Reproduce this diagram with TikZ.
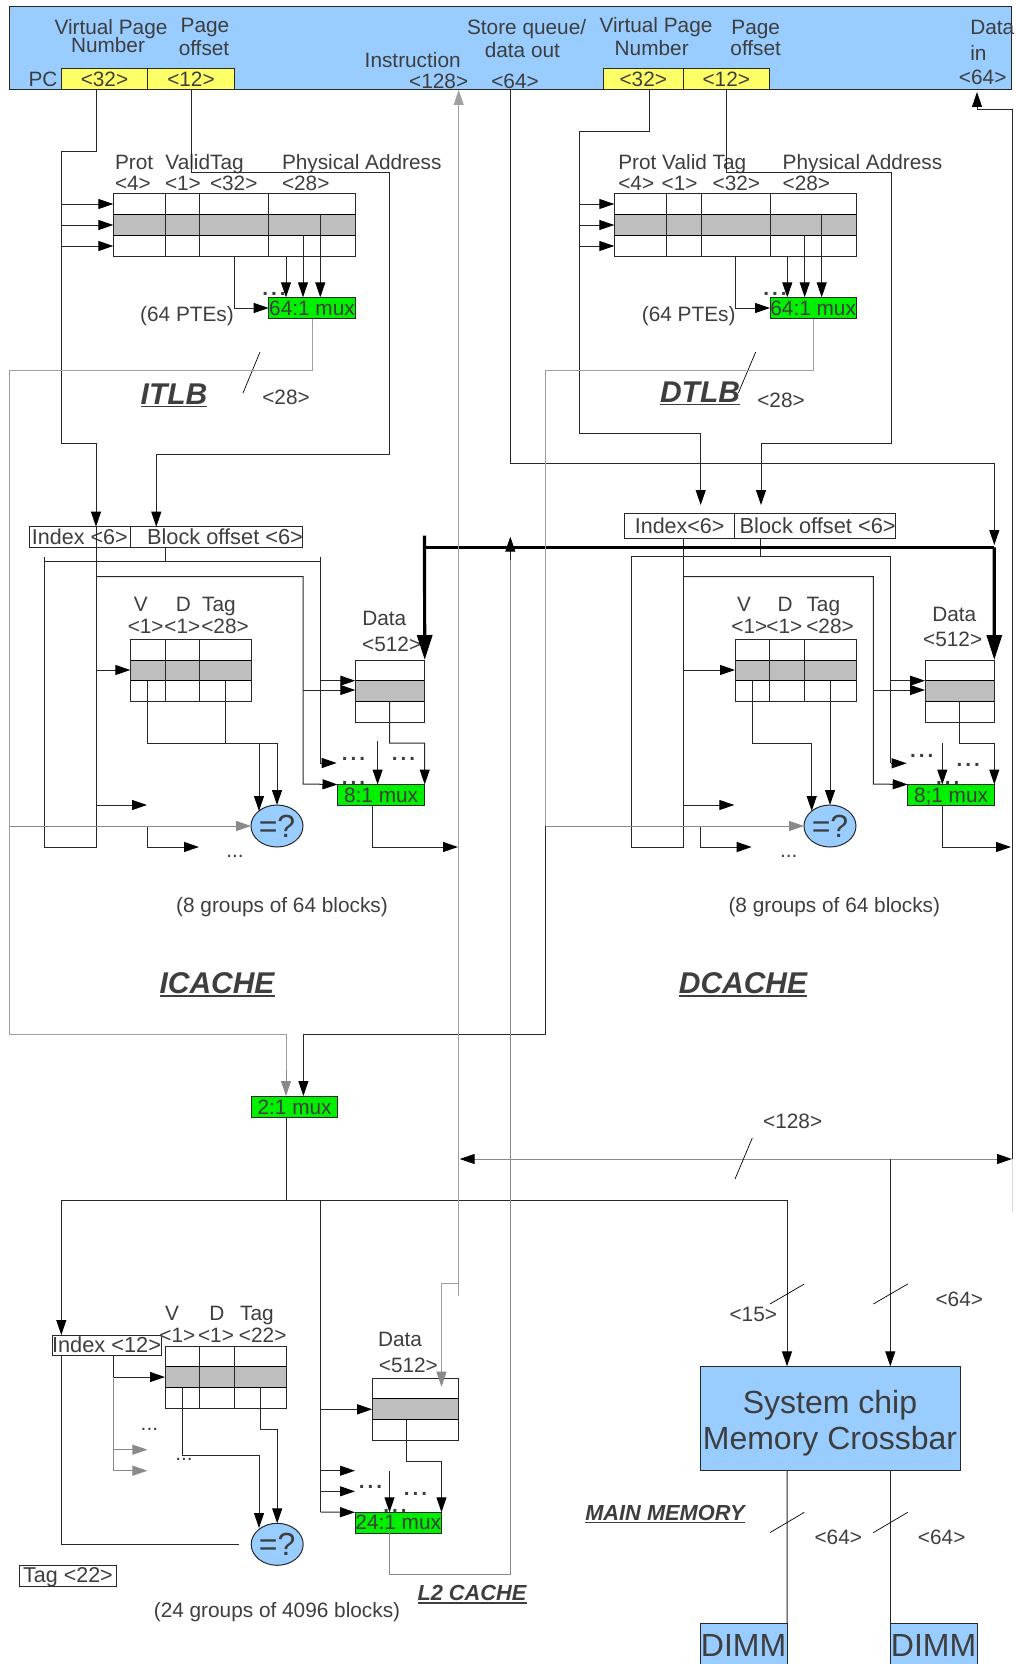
\documentclass[tikz,border=0pt]{standalone}
\usepackage{fontspec}
\setmainfont{Liberation Sans}
\usetikzlibrary{arrows.meta,shapes.geometric}
\definecolor{bluefill}{HTML}{99CCFF}
\definecolor{yel}{HTML}{FFFF66}
\definecolor{grn}{HTML}{00F000}
\definecolor{rowgray}{HTML}{BEBEBE}
\definecolor{txt}{HTML}{3E3E3E}
\definecolor{lnc}{HTML}{282828}
\definecolor{sig}{HTML}{A0A0A0}
\definecolor{sigd}{HTML}{8A8A8A}
\newcommand{\Fs}{\fontsize{20.8}{24}\selectfont}
\newcommand{\Fb}{\fontsize{21.8}{24}\selectfont}
\newcommand{\myul}[1]{\leavevmode\vtop{\hbox{#1}\kern1.2pt\hrule height 1.4pt}}
\newcommand{\dd}{\textbf{.\hspace{3pt}.\hspace{3pt}.}}
\tikzset{
  >={Triangle[length=15pt,width=10pt,color=black]},
  lbl/.style={inner sep=0pt,outer sep=0pt,text=txt,font=\Fs,text height=17pt,text depth=2.4pt},
  lbll/.style={lbl,anchor=west},
  ttl/.style={lbl,font=\fontsize{30}{34}\selectfont\bfseries\itshape,text height=24pt,text depth=2.6pt},
  ttls/.style={lbl,font=\fontsize{21.8}{26}\selectfont\bfseries\itshape,text height=18pt,text depth=2.4pt},
  big/.style={lbl,font=\fontsize{32}{36}\selectfont,text height=26pt,text depth=3.2pt},
  rbox/.style={inner sep=0pt,outer sep=0pt,draw=lnc,line width=1pt,text=txt,font=\Fs,text height=17pt,text depth=2.4pt},
  bar/.style={rbox,fill=bluefill},
  yelbox/.style={rbox,fill=yel},
  mux/.style={rbox,fill=grn},
  wbox/.style={rbox,fill=white},
  gray row/.style={rbox,fill=rowgray,draw=black},
  cmp/.style={ellipse,draw=lnc,line width=1pt,fill=bluefill,inner sep=0pt,outer sep=0pt,
    minimum width=52pt,minimum height=42pt,text=txt,font=\fontsize{32}{36}\selectfont},
  ln/.style={draw=lnc,line width=1pt},
  sg/.style={draw=sig,line width=1pt},
  sgd/.style={draw=sigd,line width=1pt,>={Triangle[length=15pt,width=10pt,color=sigd]}},
  bold/.style={draw=black,line width=3.2pt,>={Triangle[length=25pt,width=15pt,color=black]}},
  slash/.style={draw=black,line width=0.7pt},
}
% rectangular node from its corners
\newcommand{\R}[7]{\node[#2,minimum width={(#5-#3)*1pt},minimum height={(#6-#4)*1pt}] (#1) at ({(#3+#5)/2},{(#4+#6)/2}) {#7};}
% table array: name, x1,x2, y1,y2,y3,y4, column list
\newcommand{\Arr}[8]{%
  \R{#1-r}{gray row}{#2}{#5}{#3}{#6}{}
  \R{#1}{rbox}{#2}{#4}{#3}{#7}{}
  \foreach \c in {#8} {\draw[ln] (#1.north -| \c,0) -- (#1.south -| \c,0);}
}
\newcommand{\T}[4]{\node[lbl] (#1) at (#2,#3) {#4};}
\newcommand{\TL}[4]{\node[lbll] (#1) at (#2,#3) {#4};}
\begin{document}
\begin{tikzpicture}[x=1pt,y=-1pt]
\useasboundingbox[fill=white] (0,0) rectangle (1015,1664);

% ---- top bar
\R{top}{bar}{9.5}{7}{1011.7}{90}{}
\R{pcv}{yelbox}{61.5}{69}{147.5}{90}{<32>}
\R{pco}{yelbox}{147.5}{69}{234.5}{90}{<12>}
\R{dav}{yelbox}{603.3}{69}{683.3}{90}{<32>}
\R{dao}{yelbox}{683.3}{69}{769.3}{90}{<12>}
\T{t1}{111}{27}{Virtual Page}
\T{t2}{108}{45}{Number}
\T{t3}{205}{25.5}{Page}
\T{t4}{204}{48}{offset}
\T{t5}{43}{79}{PC}
\T{t6}{412.7}{60}{Instruction}
\T{t7}{438.7}{81}{<128>}
\T{t8}{526.6}{27.6}{Store queue/}
\T{t9}{522.4}{50}{data out}
\T{t10}{515}{81}{<64>}
\T{t11}{656}{25}{Virtual Page}
\T{t12}{651.7}{48}{Number}
\T{t13}{755.7}{27}{Page}
\T{t14}{755.7}{48}{offset}
\TL{t15}{970.3}{27}{Data}
\TL{t16}{970.3}{53}{in}
\T{t17}{982.7}{77}{<64>}

% ---- ITLB
\T{a11}{274}{288}{\dd}
\Arr{itlb}{113.3}{355.3}{193.5}{214.7}{235.3}{256}{165,199.7,268.7}
\draw[ln] (itlb-r.north -| 320.3,0) -- (itlb-r.south -| 320.3,0);
\R{itmux}{mux}{268.7}{297.3}{355.3}{318.7}{64:1 mux}
\TL{a1}{115}{162}{Prot}
\T{a2}{204.6}{162}{ValidTag}
\TL{a3}{282}{162}{Physical Address}
\TL{a4}{115}{183.7}{<4>}
\TL{a5}{165}{183.7}{<1>}
\TL{a6}{210}{183.7}{<32>}
\TL{a7}{282}{183.7}{<28>}
\T{a8}{187}{314}{(64 PTEs)}
\T{a9}{286}{397}{<28>}
\node[ttl] (a10) at (174,394) {\myul{ITLB}};

% ---- DTLB
\T{b9}{775}{288}{\dd}
\Arr{dtlb}{614.3}{856.3}{193.5}{214.7}{235.3}{256}{666.3,701,770}
\draw[ln] (dtlb-r.north -| 821.7,0) -- (dtlb-r.south -| 821.7,0);
\R{dtmux}{mux}{770}{297.3}{856.3}{318.7}{64:1 mux}
\TL{b1}{618.3}{162}{Prot Valid Tag}
\TL{b2}{782.7}{162}{Physical Address}
\TL{b3}{618.3}{183.7}{<4>}
\TL{b4}{661.7}{183.7}{<1>}
\TL{b5}{712.7}{183.7}{<32>}
\TL{b6}{782.7}{183.7}{<28>}
\T{b7}{688.7}{314}{(64 PTEs)}
\T{b8}{781}{400}{<28>}
\node[ttl] (d15) at (700,392) {\myul{DTLB}};

% ---- ICACHE
\R{iidx}{wbox}{29.3}{526.7}{130.3}{547.3}{\fontsize{21.5}{24}\selectfont Index <6>}
\R{iblk}{wbox}{130.3}{526.7}{302.7}{547.3}{\Fb\hspace*{17pt}Block offset <6>}
\Arr{ictag}{130.3}{251.5}{639.3}{660}{680.5}{701}{165,199.7}
\Arr{icdat}{355.3}{424.7}{660}{680.7}{701}{722}{}
\T{c15}{353.5}{777}{\dd}
\R{icmux}{mux}{337.5}{784.5}{424.7}{805}{8:1 mux}
\node[cmp] (iccmp) at (277,826) {=?};
\T{c1}{140.7}{604}{V}
\T{c2}{183.3}{604}{D}
\T{c3}{219}{604}{Tag}
\T{c4}{145.7}{625.7}{<1>}
\T{c5}{182.3}{625.7}{<1>}
\T{c6}{225}{625.7}{<28>}
\T{c7}{384.3}{617.7}{Data}
\T{c8}{391.7}{644.3}{<512>}
\T{c9}{235}{850}{...}
\T{c10}{353.5}{753}{\dd}
\T{c11}{403.5}{753}{\dd}
\T{c12}{282}{905}{(8 groups of 64 blocks)}
\node[ttl] (c14) at (217,983) {\myul{ICACHE}};

% ---- DCACHE
\R{didx}{wbox}{624.3}{513.3}{735}{538.3}{\fontsize{21.5}{24}\selectfont Index<6>}
\R{dblk}{wbox}{735}{513.3}{895.3}{538.3}{\Fb\hspace*{5pt}Block offset <6>}
\Arr{dctag}{735}{856.3}{639.3}{660}{680.5}{701}{769.7,804.3}
\Arr{dcdat}{925}{994.3}{660}{680.7}{701}{722}{}
\T{d15x}{947.7}{777}{\dd}
\R{dcmux}{mux}{907.7}{784.5}{994.3}{805}{8;1 mux}
\node[cmp] (dccmp) at (830,826) {=?};
\T{d1}{744}{604}{V}
\T{d2}{785}{604}{D}
\T{d3}{823.3}{604}{Tag}
\T{d4}{749.3}{625.7}{<1>}
\T{d5}{784.3}{625.7}{<1>}
\T{d6}{830}{625.7}{<28>}
\T{d7}{954.3}{614}{Data}
\T{d8}{952.7}{639}{<512>}
\T{d9}{788.7}{850}{...}
\T{d10}{921.7}{750}{\dd}
\T{d11}{968.3}{759}{\dd}
\T{d12}{834.3}{905}{(8 groups of 64 blocks)}
\node[ttl] (d14) at (743,983) {\myul{DCACHE}};

% ---- 2:1 mux and L2
\R{m21}{mux}{251.4}{1096}{337.8}{1117.7}{2:1 mux}
\R{l2idx}{wbox}{56.8}{1335}{156.3}{1355}{\Fb Index <12>}
\R{l2tagb}{wbox}{19.6}{1565}{116.4}{1586}{\fontsize{21.5}{24}\selectfont Tag <22>}
\Arr{l2tag}{165}{286.2}{1346}{1366.7}{1387.3}{1408}{199.4,234.2}
\Arr{l2dat}{372.2}{458.7}{1378}{1398.7}{1419.7}{1440}{}
\T{e15}{395}{1505}{\dd}
\R{l2mux}{mux}{355}{1512.3}{441.5}{1533}{24:1 mux}
\node[cmp] (l2cmp) at (277.2,1544.3) {=?};
\T{e1}{172}{1312.7}{V}
\T{e2}{217}{1312.7}{D}
\T{e3}{257}{1312.7}{Tag}
\T{e4}{177.3}{1334.7}{<1>}
\T{e5}{216}{1334.7}{<1>}
\T{e6}{262.7}{1334.7}{<22>}
\T{e7}{400}{1339}{Data}
\T{e8}{408.4}{1365}{<512>}
\T{e9}{149.4}{1423}{...}
\T{e10}{184}{1453}{...}
\T{e11}{370.5}{1481}{\dd}
\T{e12}{415.6}{1488}{\dd}
\T{e13}{277}{1610}{(24 groups of 4096 blocks)}
\node[ttls] (e14) at (472,1593) {\myul{L2 CACHE}};

% ---- memory
\R{xbar}{bar}{700.3}{1366.3}{960}{1470.6}{}
\node[big] (x1) at (830,1402) {System chip};
\node[big] (x2) at (830,1438) {Memory Crossbar};
\R{dimm1}{bar}{700.3}{1623}{787}{1670}{}
\R{dimm2}{bar}{890.3}{1623}{977}{1670}{}
\node[big] (x3) at (743.6,1645) {DIMM};
\node[big] (x4) at (933.6,1645) {DIMM};
\T{f1}{792.7}{1121.6}{<128>}
\T{f2}{753.3}{1313.8}{<15>}
\T{f3}{959.3}{1299.4}{<64>}
\T{f4}{838.3}{1537.4}{<64>}
\T{f5}{941.7}{1537.4}{<64>}
\node[ttls] (f6) at (665,1512.3) {\myul{MAIN MEMORY}};

% ---- free ends
\coordinate (ibus) at (458.7,1295.7);
\coordinate (dtap) at (1012,1159);

% ---- ITLB wiring
\draw[ln,->] (pcv.south -| 96,0) -- (96,152) -- (61.5,152) -- (61.5,443) -- (96,443) -- (iidx.north -| 96,0);
\foreach \yy in {204,225,246} {\draw[ln,->] (61.5,\yy) -- (itlb.west |- 0,\yy);}
\draw[ln,->] (pco.south -| 191,0) -- (191,173) -- (389.7,173) -- (389.7,454) -- (156.3,454) -- (iblk.north -| 156.3,0);
\draw[ln,->] (itlb.south -| 286,0) -- (itmux.north -| 286,0);
\draw[ln,->] (itlb-r.south -| 303,0) -- (itmux.north -| 303,0);
\draw[ln,->] (itlb-r.south -| 320.3,0) -- (itmux.north -| 320.3,0);
\draw[ln,->] (itlb.south -| 234,0) -- (234,308) -- (itmux.west |- 0,308);
\draw[slash] (260,352) -- (243,393);

% ---- DTLB wiring
\draw[ln,->] (dav.south -| 649,0) -- (649,131.7) -- (579.7,131.7) -- (579.7,433) -- (700.7,433) -- (700.7,505);
\foreach \yy in {204,225,246} {\draw[ln,->] (579.7,\yy) -- (dtlb.west |- 0,\yy);}
\draw[ln,->] (dao.south -| 726.7,0) -- (726.7,173) -- (891.3,173) -- (891.3,443.3) -- (761,443.3) -- (761,505);
\draw[ln,->] (dtlb.south -| 787.3,0) -- (dtmux.north -| 787.3,0);
\draw[ln,->] (dtlb-r.south -| 804.7,0) -- (dtmux.north -| 804.7,0);
\draw[ln,->] (dtlb-r.south -| 821.7,0) -- (dtmux.north -| 821.7,0);
\draw[ln,->] (dtlb.south -| 735.3,0) -- (735.3,308) -- (dtmux.west |- 0,308);
\draw[slash] (755.7,352) -- (738.3,393);

% ---- ICACHE wiring
\draw[ln] (iidx.north -| 96,0) -- (96,847) -- (44,847) -- (44,556.7);
\draw[ln] (iblk.south -| 165,0) -- (165,561.7);
\draw[ln] (44,561.7) -- (320.5,561.7);
\draw[ln,->] (320.5,556.7) -- (320.5,763) -- (336.7,763);
\draw[ln,->] (96,576.7) -- (303,576.7) -- (303,784) -- (icmux.north west);
\draw[ln,->] (303,690) -- (icdat.west |- 0,690);
\draw[ln,->] (320.5,680.7) -- (icdat.west |- 0,680.7);
\draw[ln,->] (96,670) -- (ictag.west |- 0,670);
\draw[ln,->] (96,805) -- (147,805);
\draw[ln,->] (ictag-r.south -| 147.6,0) -- (147.6,743) -- (277,743) -- (iccmp.north);
\draw[ln,->] (ictag-r.south -| 225.6,0) -- (225.6,743) -- (259,743) -- (259,811);
\draw[ln,->] (icdat-r.south -| 389.5,0) -- (389.5,743) -- (424.7,743) -- (icmux.north east);
\draw[ln,->] (377.6,740.7) -- (icmux.north -| 377.6,0);
\draw[ln,->] (icmux.south -| 372.3,0) -- (372.3,847) -- (458,847);
\draw[ln,->] (147.6,826) -- (147.6,847) -- (199,847);
\draw[sgd,->] (9.5,826) -- (iccmp.west);

% ---- DCACHE wiring
\draw[ln] (didx.south -| 683.3,0) -- (683.3,847) -- (631.7,847) -- (631.7,556) -- (890.7,556) -- (890.7,763.3);
\draw[ln] (dblk.south -| 760.7,0) -- (760.7,556);
\draw[ln,->] (890.7,763.3) -- (906.7,763.3);
\draw[ln,->] (683.3,576.7) -- (873.3,576.7) -- (873.3,784) -- (dcmux.north west);
\draw[ln,->] (873.3,690) -- (dcdat.west |- 0,690);
\draw[ln,->] (890.7,680.7) -- (dcdat.west |- 0,680.7);
\draw[ln,->] (683.3,670) -- (dctag.west |- 0,670);
\draw[ln,->] (683.3,805) -- (734.3,805);
\draw[ln,->] (dctag-r.south -| 752.3,0) -- (752.3,743) -- (811.7,743) -- (811.7,811);
\draw[ln,->] (dctag-r.south -| 830,0) -- (dccmp.north);
\draw[ln,->] (dcdat-r.south -| 959.7,0) -- (959.7,743) -- (994.3,743) -- (dcmux.north east);
\draw[ln,->] (942.3,743) -- (dcmux.north -| 942.3,0);
\draw[ln,->] (dcmux.south -| 942.3,0) -- (942.3,847) -- (1011,847);
\draw[ln,->] (700.7,826) -- (700.7,847) -- (751.7,847);

% ---- data buses
\draw[ln,->] (top.south -| 510.5,0) -- (510.5,463.7) -- (994.3,463.7) -- (994.3,545);
\draw[bold] (424.5,547.3) -- (994.3,547.3);
\draw[bold,->] (424.5,535.7) -- (icdat.north east);
\draw[bold,->] (994.3,547.3) -- (dcdat.north east);

% ---- TLB results to 2:1 mux
\draw[sg] (itmux.south -| 312,0) -- (312,370) -- (9.5,370) -- (9.5,1034) -- (286,1034) -- (286,1081);
\draw[sgd,->] (286,1070) -- (m21.north -| 286,0);
\draw[sg] (dtmux.south -| 813.3,0) -- (813.3,370) -- (545,370) -- (545,826);
\draw[sgd,->] (545,826) -- (dccmp.west);
\draw[ln,->] (545,826) -- (545,1034) -- (303.4,1034) -- (m21.north -| 303.4,0);

% ---- L2 wiring
\draw[ln] (m21.south -| 286,0) -- (286,1200);
\draw[ln,->] (61.3,1200) -- (787,1200) -- (xbar.north -| 787,0);
\draw[ln,->] (61.3,1200) -- (l2idx.north -| 61.3,0);
\draw[ln] (l2idx.south -| 61.3,0) -- (61.3,1544) -- (239,1544);
\draw[ln,->] (l2idx.south -| 113.3,0) -- (113.3,1377) -- (l2tag.west |- 0,1377);
\draw[sgd,->] (113.3,1377) -- (113.3,1449.7) -- (147.4,1449.7);
\draw[sgd,->] (113.3,1449.7) -- (113.3,1470.7) -- (147.4,1470.7);
\draw[ln,->] (l2tag-r.south -| 182.2,0) -- (182.2,1455.7) -- (259,1455.7) -- (259,1528);
\draw[ln,->] (l2tag-r.south -| 260,0) -- (260,1429) -- (277.2,1429) -- (l2cmp.north);
\draw[ln] (320.6,1200) -- (320.6,1512);
\draw[ln,->] (320.6,1409.3) -- (l2dat.west |- 0,1409.3);
\draw[ln,->] (320.6,1470.7) -- (355,1470.7);
\draw[ln,->] (320.6,1491.3) -- (355,1491.3);
\draw[ln,->] (320.6,1512) -- (l2mux.north west);
\draw[ln,->] (l2dat-r.south -| 406.7,0) -- (406.7,1461.3) -- (441.5,1461.3) -- (l2mux.north east);
\draw[ln,->] (389.5,1470.7) -- (l2mux.north -| 389.5,0);
\draw[sgd] (l2mux.south -| 389.5,0) -- (389.5,1574.3) -- (510.3,1574.3) -- (510.3,560);
\draw[ln,->] (510.3,560) -- (510.3,536.7);
\draw[sg,->,>={Triangle[length=15pt,width=10pt,color=sig]}] (ibus) -- (top.south -| 458.7,0);
\draw[sg] (458.7,1283.3) -- (441.5,1283.3) -- (441.5,1370);
\draw[sgd,->] (441.5,1370) -- (441.5,1386.7);

% ---- memory bus
\draw[sgd,<->,>={Triangle[length=15pt,width=10pt,color=black]}] (459.7,1159) -- (dtap);
\draw[ln,->] (890.3,1159) -- (xbar.north -| 890.3,0);
\draw[ln,->] (dtap) -- (1012,110) -- (977,110) -- (977,92);
\draw[draw=gray!30,line width=1pt] (dtap) -- (1012,1212);
\draw[ln] (xbar.south -| 787,0) -- (dimm1.north east);
\draw[ln] (xbar.south -| 890.3,0) -- (dimm2.north west);
\draw[slash] (752.3,1138) -- (735,1179);
\draw[slash] (804.3,1284) -- (770,1304);
\draw[slash] (907.7,1284) -- (873.3,1304);
\draw[slash] (804.3,1512.3) -- (770,1532.6);
\draw[slash] (907.7,1512.3) -- (873.3,1532.6);
\end{tikzpicture}
\end{document}
